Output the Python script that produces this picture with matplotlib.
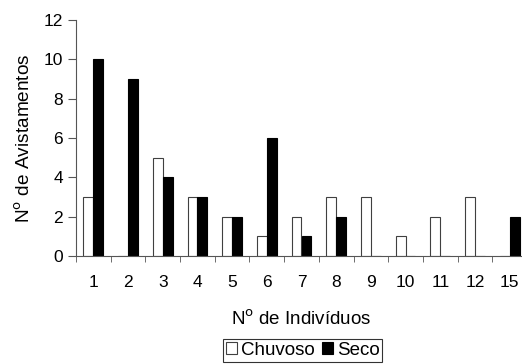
import numpy as np
import matplotlib
matplotlib.use('Agg')
import matplotlib.pyplot as plt

plt.rcParams['font.family'] = ['Liberation Sans', 'DejaVu Sans']

categorias = ['1', '2', '3', '4', '5', '6', '7', '8', '9', '10', '11', '12', '15']
chuvoso = [3, 0, 5, 3, 2, 1, 2, 3, 3, 1, 2, 3, 0]
seco = [10, 9, 4, 3, 2, 6, 1, 2, 0, 0, 0, 0, 2]

fs = 12.5
fig = plt.figure(figsize=(5.22, 3.64), dpi=100)
ax = fig.add_axes([76 / 522, 1 - 256 / 364, 451 / 522, 236 / 364])

x = np.arange(len(categorias))
w = 1 / 3.5
ax.bar(x - w / 2, chuvoso, w, color='white', edgecolor='#404040', linewidth=0.8, label='Chuvoso')
ax.bar(x + w / 2, seco, w, color='black', edgecolor='black', linewidth=0.8, label='Seco')

ax.set_xlim(-0.5, len(categorias) - 0.5)
ax.set_ylim(0, 12)
ax.set_yticks(range(0, 13, 2))
ax.set_xticks(x)
ax.set_xticklabels(categorias)
ax.set_xticks(np.arange(-0.5, len(categorias), 1), minor=True)
ax.tick_params(axis='x', which='major', length=0, pad=14, labelsize=fs)
ax.tick_params(axis='x', which='minor', length=4.5, direction='out', color='#555555')
ax.tick_params(axis='y', length=5.5, pad=4, direction='out', color='#555555', labelsize=fs)

for s in ['top', 'right']:
    ax.spines[s].set_visible(False)
for s in ['left', 'bottom']:
    ax.spines[s].set_color('#555555')

ax.set_ylabel('N$^{\\mathrm{o}}$ de Avistamentos', fontsize=13.7, labelpad=7)
ax.set_xlabel('N$^{\\mathrm{o}}$ de Indivíduos', fontsize=13.5, labelpad=14)

leg = fig.legend(loc='center', bbox_to_anchor=(302.5 / 522, 1 - 350.5 / 364), ncol=2,
                 fontsize=13.5, frameon=True, fancybox=False, edgecolor='black',
                 handlelength=0.6, handleheight=0.6, handletextpad=0.2,
                 columnspacing=0.4, borderpad=0.15, borderaxespad=0)
leg.get_frame().set_linewidth(0.8)

fig.savefig('out.png', dpi=100)
